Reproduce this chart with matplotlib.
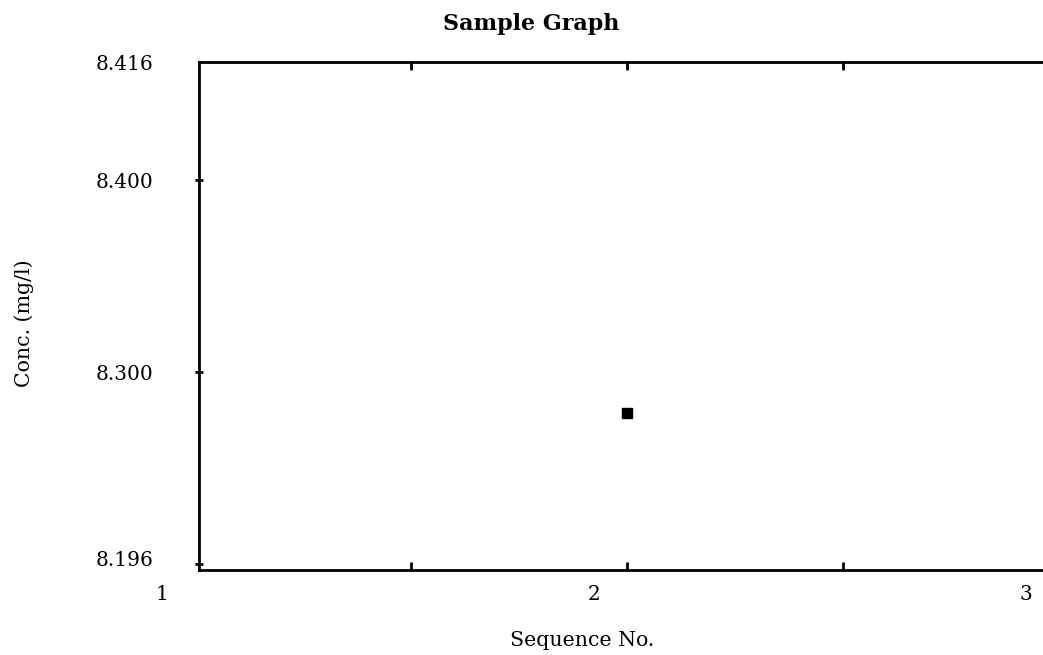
import matplotlib
matplotlib.use("Agg")
from matplotlib import pyplot as plt
from matplotlib import transforms

# data
seq = [2]
conc = [8.279]

y_ticks = [8.2, 8.3, 8.4, 8.4617]
y_tick_labels = ['8.196', '8.300', '8.400', '8.416']
x_ticks = [1.5, 2.0, 2.5]
x_label_pos = [1, 2, 3]
x_labels = ['1', '2', '3']

plt.rcParams['font.family'] = 'DejaVu Serif'

fig = plt.figure(figsize=(10.43, 6.55), dpi=100)
# axes runs off the right edge of the figure, like the original
ax = fig.add_axes([199 / 1043, 85 / 655, 860 / 1043, 508 / 655])

ax.plot(seq, conc, 's', color='black', markersize=6.5)

ax.set_xlim(1.009, 3.0)
ax.set_ylim(8.1971, 8.4617)

for side in ['left', 'top', 'bottom']:
    ax.spines[side].set_linewidth(2.0)
ax.spines['right'].set_visible(False)

ax.set_yticks(y_ticks)
ax.set_yticklabels(y_tick_labels)
ax.tick_params(axis='y', direction='inout', length=6, width=2.0,
               labelsize=14.5, pad=30, right=False)
ax.yaxis.get_major_ticks()[-1].tick1line.set_visible(False)
# bottom label sits a little above its tick in the original
lab0 = ax.get_yticklabels()[0]
lab0.set_transform(lab0.get_transform() +
                   transforms.ScaledTranslation(0, 6 / 100, fig.dpi_scale_trans))

ax.set_xticks(x_ticks)
ax.set_xticklabels([])
ax.tick_params(axis='x', direction='in', length=6, width=2.0, top=True)

# x labels sit left of where their values fall
shift = transforms.ScaledTranslation(-33 / 100, 0, fig.dpi_scale_trans)
trans = transforms.blended_transform_factory(ax.transData, ax.transAxes) + shift
for xv, lab in zip(x_label_pos, x_labels):
    ax.text(xv, -25 / 508, lab, transform=trans, ha='center', va='center',
            fontsize=14.5, clip_on=False)

ax.set_xlabel('Sequence No.', fontsize=14.8, va='center')
ax.xaxis.set_label_coords((582 - 199) / 860, -(640 - 570) / 508)
ax.set_ylabel('Conc. (mg/l)', fontsize=14.8, va='center')
ax.yaxis.set_label_coords((24 - 199) / 860, (570 - 323) / 508)

fig.text(531 / 1043, 1 - 24 / 655, 'Sample Graph', ha='center', va='center',
         fontsize=16, fontweight='bold')

fig.savefig('out.png', dpi=100)
